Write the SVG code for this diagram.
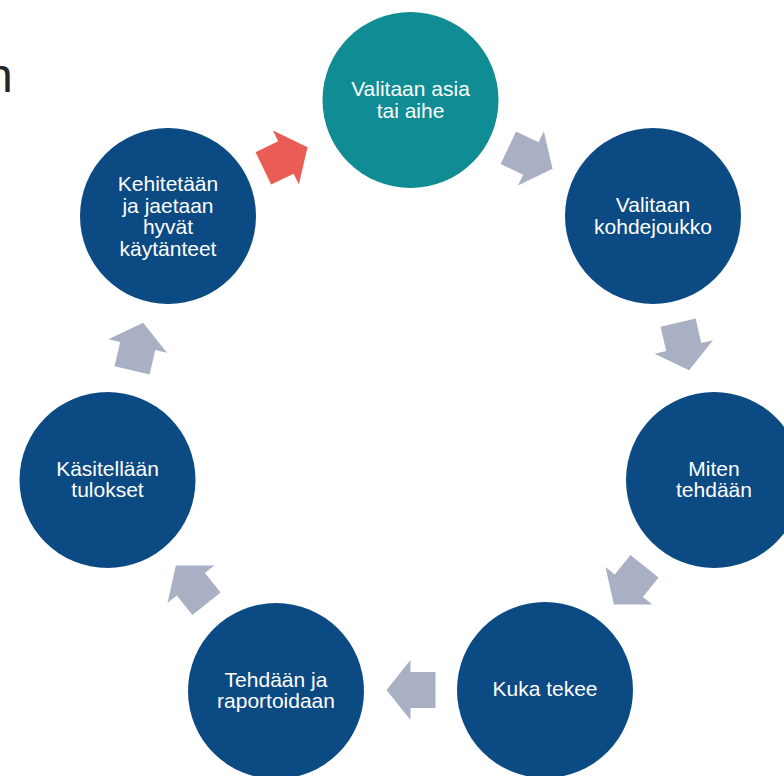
<svg xmlns="http://www.w3.org/2000/svg" width="784" height="776" viewBox="0 0 784 776">
<defs>
<style>
.node{fill:#0C4A84}
.teal{fill:#108C94}
.lbl{font-family:"Liberation Sans",Arial,sans-serif;font-size:21px;fill:#FFFFFF;text-anchor:middle}
.arr{fill:#A9B0C3}
.red{fill:#EA5D57}
</style>
<polygon id="arrowShape" points="-24,-18 1,-18 1,-30 25,0 1,30 1,18 -24,18"/>
</defs>
<rect width="784" height="776" fill="#FFFFFF"/>
<text x="-14" y="92" font-family="Liberation Sans,Arial,sans-serif" font-size="48" fill="#262626">n</text>
<g id="connectors">
<use href="#arrowShape" class="arr" transform="translate(530,158) rotate(25.5)"/>
<use href="#arrowShape" class="arr" transform="translate(683.5,346) rotate(77)"/>
<use href="#arrowShape" class="arr" transform="translate(629.5,585) rotate(128.7)"/>
<use href="#arrowShape" class="arr" transform="translate(411.5,690) rotate(180)"/>
<use href="#arrowShape" class="arr" transform="translate(191.5,585) rotate(-128.7)"/>
<use href="#arrowShape" class="arr" transform="translate(137.5,347) rotate(-77)"/>
<use href="#arrowShape" class="red" transform="translate(285,158) rotate(-25.6)"/>
</g>
<g id="node-aihe">
<circle class="teal" cx="410.5" cy="100" r="88"/>
<text class="lbl" x="410.5" y="96">Valitaan asia</text>
<text class="lbl" x="410.5" y="117.5">tai aihe</text>
</g>
<g id="node-kohdejoukko">
<circle class="node" cx="653" cy="216" r="88"/>
<text class="lbl" x="653" y="212">Valitaan</text>
<text class="lbl" x="653" y="233.5">kohdejoukko</text>
</g>
<g id="node-miten">
<circle class="node" cx="714" cy="480" r="88"/>
<text class="lbl" x="714" y="475.5">Miten</text>
<text class="lbl" x="714" y="497">tehdään</text>
</g>
<g id="node-kuka">
<circle class="node" cx="545" cy="690" r="88"/>
<text class="lbl" x="545" y="696">Kuka tekee</text>
</g>
<g id="node-tehdaan">
<circle class="node" cx="276" cy="691" r="88"/>
<text class="lbl" x="276" y="686.5">Tehdään ja</text>
<text class="lbl" x="276" y="708">raportoidaan</text>
</g>
<g id="node-kasitellaan">
<circle class="node" cx="107.5" cy="480" r="88"/>
<text class="lbl" x="107.5" y="475.5">Käsitellään</text>
<text class="lbl" x="107.5" y="497">tulokset</text>
</g>
<g id="node-kehitetaan">
<circle class="node" cx="168" cy="216" r="88"/>
<text class="lbl" x="168" y="190.5">Kehitetään</text>
<text class="lbl" x="168" y="212.5">ja jaetaan</text>
<text class="lbl" x="168" y="234">hyvät</text>
<text class="lbl" x="168" y="256">käytänteet</text>
</g>
</svg>
